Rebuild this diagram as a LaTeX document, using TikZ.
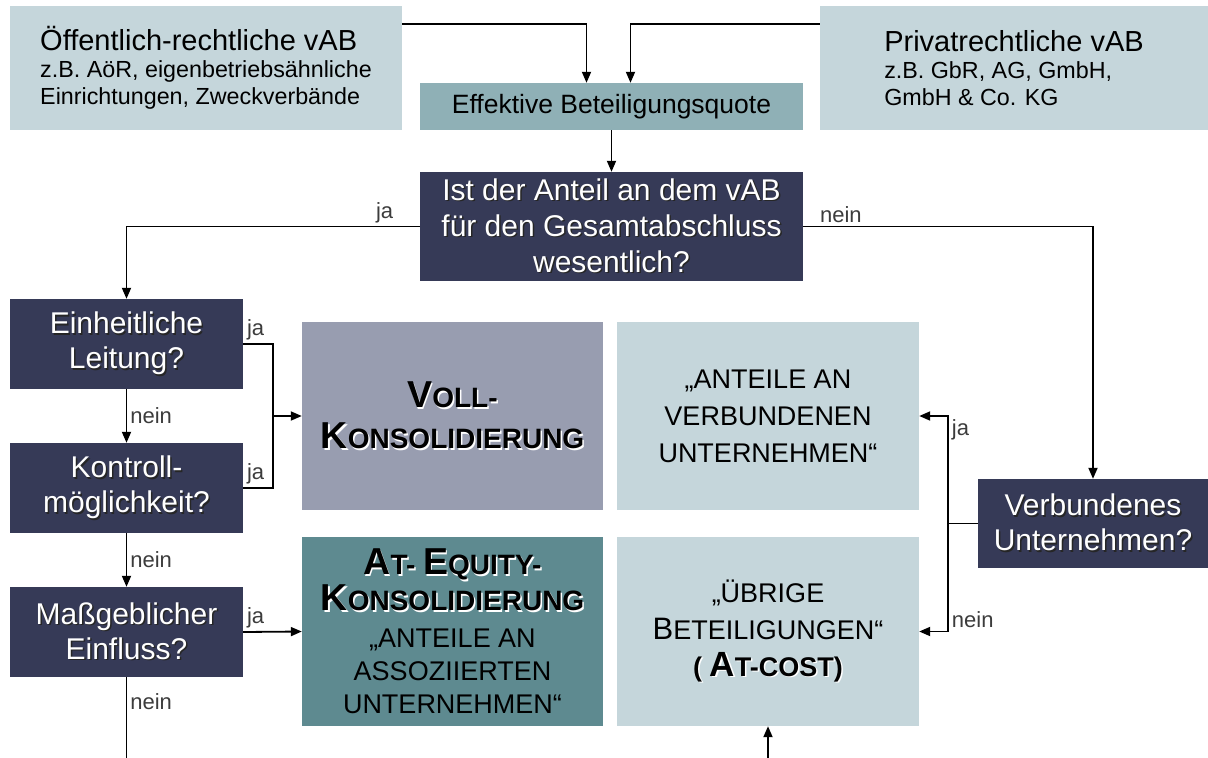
\documentclass[tikz,border=0pt]{standalone}
\usepackage{fontspec}
\setmainfont{Liberation Sans}
\usetikzlibrary{arrows.meta}

\definecolor{boxlight}{RGB}{197,214,219}
\definecolor{boxteal}{RGB}{143,176,182}
\definecolor{boxnavy}{RGB}{54,58,87}
\definecolor{boxgrey}{RGB}{152,157,176}
\definecolor{boxequity}{RGB}{94,138,144}
\definecolor{lblgrey}{RGB}{60,60,60}

\newcommand{\fs}[2]{\fontsize{#1}{#2}\selectfont}
\newcommand{\shd}[2]{\makebox[0pt][l]{\hspace{1.5pt}\raisebox{-1.5pt}{\textcolor{#1}{#2}}}#2}
\newcommand{\dk}[1]{\shd{black!85}{#1}}
\newcommand{\wt}[1]{\shd{white}{#1}}

\begin{document}
\begin{tikzpicture}[x=1pt, y=-1pt,
    every node/.style={inner sep=0pt, align=center},
    light/.style={fill=boxlight, text=black},
    navy/.style={fill=boxnavy, text=white, font=\fs{30}{35}},
    lbl/.style={text=lblgrey, font=\fs{22}{24}, inner sep=3pt},
    con/.style={line width=1.8pt},
    arr/.style={con, -{Triangle[length=11pt,width=9pt]}}]
      \useasboundingbox (0,0) rectangle (1208,758);
      % top row
      \node[light, minimum width=392pt, minimum height=124pt, align=left, font=\fs{23.3}{27}] (1) at (206,68)
        {{\fs{29}{27}Öffentlich-rechtliche vAB}\\
         z.B. AöR, eigenbetriebsähnliche\\
         Einrichtungen, Zweckverbände};
      \node[light, minimum width=388pt, minimum height=124pt, align=left, font=\fs{23.3}{27}] (2) at (1014,68)
        {{\fs{29}{27}Privatrechtliche vAB}\\
         z.B. GbR, AG, GmbH,\\
         GmbH \& Co. KG};
      \node[fill=boxteal, minimum width=383pt, minimum height=47pt, font=\fs{26.5}{30}] (3) at (611.5,106.5)
        {Effektive Beteiligungsquote};
      \node[navy, minimum width=383pt, minimum height=109pt, font=\fs{30}{36}] (4) at (611.5,226.5)
        {\dk{Ist der Anteil an dem vAB}\\\dk{für den Gesamtabschluss}\\\dk{wesentlich?}};
      % left column
      \node[navy, minimum width=233pt, minimum height=90pt] (5) at (126.5,344)
        {\dk{Einheitliche}\\\dk{Leitung?}};
      \node[navy, minimum width=233pt, minimum height=90pt] (6) at (126.5,488)
        {\dk{Kontroll-}\\\dk{möglichkeit?}};
      \node[navy, minimum width=233pt, minimum height=90pt] (7) at (126.5,632)
        {\dk{Maßgeblicher}\\\dk{Einfluss?}};
      % result boxes
      \node[fill=boxgrey, minimum width=301pt, minimum height=188pt, font=\bfseries\fs{28}{41}] (8) at (452.5,416)
        {\wt{{\fs{37.5}{41}V}OLL-}\\\wt{{\fs{37.5}{41}K}ONSOLIDIERUNG}};
      \node[fill=boxequity, minimum width=301pt, minimum height=189pt, font=\fs{27}{33}] (9) at (452.5,631.5)
        {\wt{\bfseries{\fs{37.5}{38}A}\fs{28}{38}T- {\fs{37.5}{38}E}QUITY-}\\[3pt]
         \wt{\bfseries{\fs{37.5}{38}K}\fs{28}{38}ONSOLIDIERUNG}\\[4pt]
         „ANTEILE AN\\ASSOZIIERTEN\\UNTERNEHMEN“};
      \node[light, minimum width=302pt, minimum height=188pt, font=\fs{27}{37}] (10) at (768,416)
        {„ANTEILE AN\\VERBUNDENEN\\UNTERNEHMEN“};
      \node[light, minimum width=302pt, minimum height=189pt, font=\fs{27}{37}] (11) at (768,631.5)
        {„ÜBRIGE\\{\fs{31}{37}B}ETEILIGUNGEN“\\
         \wt{\bfseries( {\fs{35}{37}A}T-COST)}};
      \node[navy, minimum width=230pt, minimum height=89pt] (12) at (1093,523.5)
        {\dk{Verbundenes}\\\dk{Unternehmen?}};
      \coordinate (j1) at (273,416);
      \coordinate (j2) at (948,523.5);
      \coordinate (e1) at (126.5,758);
      \coordinate (s1) at (768,758);
      % connectors
      \draw[arr] ([yshift=44pt]1.east) -| ([xshift=-25pt]3.north);
      \draw[arr] ([yshift=44pt]2.west) -| ([xshift=19pt]3.north);
      \draw[arr] (3) -- (4);
      \draw[arr] (4.west) -| node[lbl, above, pos=0.06] {ja} (5.north);
      \draw[arr] (4.east) -| node[lbl, above, pos=0.065] {nein} (12.north);
      \draw[con] (5.east) node[lbl, above right] {ja} -| (j1) |- (6.east) node[lbl, above right] {ja};
      \draw[arr] (j1) -- (8.west);
      \draw[arr] (5) -- node[lbl, right] {nein} (6);
      \draw[arr] (6) -- node[lbl, right] {nein} (7);
      \draw[arr] (7.east) node[lbl, above right] {ja} -- (9.west);
      \draw[con] (7.south) -- node[lbl, right, pos=0.3] {nein} (e1);
      \draw[con] (12.west) -- (j2);
      \draw[arr] (j2) |- node[lbl, below right, pos=0.5] {ja} (10.east);
      \draw[arr] (j2) |- node[lbl, above right, pos=0.5] {nein} (11.east);
      \draw[arr] (s1) -- (11.south);
    \end{tikzpicture}
\end{document}
